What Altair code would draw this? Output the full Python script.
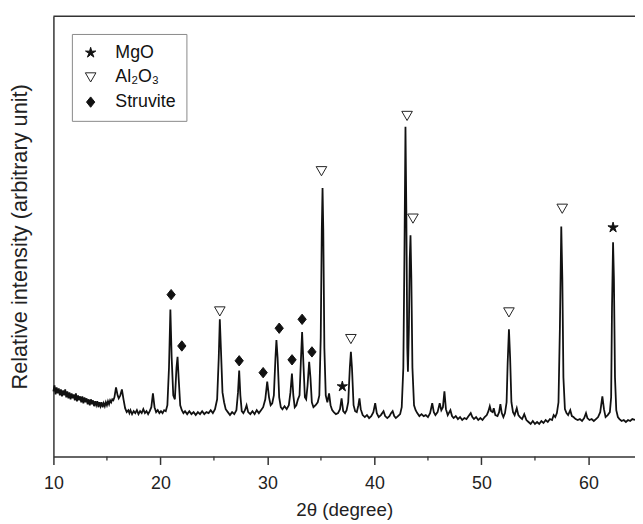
import altair as alt
import pandas as pd

# ---- data (2θ in degrees, intensity in arbitrary units) ----
profile = [
    (10.0, 66), (10.1, 72), (10.2, 63), (10.3, 70), (10.4, 64), (10.5, 69), (10.6, 62), (10.7, 68),
    (10.8, 61), (10.9, 67), (11.0, 62), (11.1, 68), (11.2, 60), (11.3, 66), (11.4, 59), (11.5, 65),
    (11.6, 58), (11.7, 64), (11.8, 59), (11.9, 63), (12.0, 57), (12.1, 64), (12.2, 56), (12.3, 62),
    (12.4, 57), (12.5, 61), (12.6, 55), (12.7, 61), (12.8, 54), (12.9, 60), (13.0, 55), (13.1, 59),
    (13.2, 53), (13.3, 58), (13.4, 52), (13.5, 58), (13.6, 53), (13.7, 57), (13.8, 51), (13.9, 56),
    (14.0, 52), (14.1, 56), (14.2, 50), (14.3, 55), (14.4, 51), (14.5, 55), (14.6, 50), (14.7, 54),
    (14.8, 51), (14.9, 55), (15.0, 52), (15.1, 56), (15.2, 53), (15.3, 57), (15.4, 55), (15.5, 58),
    (15.6, 57), (15.7, 60), (15.85, 70), (16.0, 62), (16.1, 59), (16.25, 62), (16.4, 68), (16.55, 58),
    (16.7, 49), (16.85, 45), (17.0, 47), (17.1, 44), (17.2, 47), (17.35, 43), (17.5, 46), (17.65, 44),
    (17.8, 47), (17.95, 43), (18.1, 46), (18.25, 44), (18.4, 48), (18.55, 44), (18.7, 46), (18.85, 43),
    (19.0, 46), (19.15, 50), (19.3, 64), (19.45, 50), (19.6, 45), (19.75, 47), (19.9, 44), (20.05, 46),
    (20.2, 44), (20.35, 47), (20.5, 46), (20.65, 52), (20.8, 90), (20.93, 149), (21.05, 100), (21.2, 62),
    (21.35, 58), (21.5, 90), (21.6, 101), (21.7, 80), (21.85, 52), (22.0, 47), (22.15, 44), (22.3, 46),
    (22.5, 43), (22.7, 46), (22.9, 43), (23.1, 45), (23.3, 42), (23.5, 45), (23.7, 43), (23.9, 46),
    (24.1, 43), (24.3, 45), (24.5, 44), (24.7, 47), (24.9, 44), (25.1, 48), (25.3, 58), (25.45, 100),
    (25.55, 139), (25.65, 110), (25.8, 65), (25.95, 55), (26.1, 48), (26.3, 45), (26.5, 42), (26.7, 45),
    (26.9, 43), (27.1, 47), (27.25, 65), (27.36, 87), (27.47, 62), (27.6, 46), (27.75, 44), (27.9, 47),
    (28.05, 52), (28.2, 45), (28.4, 43), (28.6, 46), (28.8, 43), (29.0, 47), (29.2, 44), (29.4, 47),
    (29.6, 50), (29.8, 58), (29.98, 76), (30.15, 60), (30.3, 52), (30.45, 54), (30.6, 62), (30.75, 100),
    (30.84, 118), (30.95, 100), (31.1, 60), (31.25, 50), (31.4, 48), (31.6, 51), (31.8, 48), (32.0, 52),
    (32.15, 65), (32.29, 84), (32.42, 62), (32.55, 50), (32.7, 52), (32.85, 58), (33.0, 62), (33.12, 95),
    (33.24, 126), (33.36, 95), (33.5, 60), (33.62, 58), (33.75, 72), (33.9, 96), (34.02, 80), (34.15, 55),
    (34.3, 50), (34.5, 52), (34.7, 55), (34.85, 62), (34.98, 120), (35.08, 230), (35.15, 272), (35.22, 230),
    (35.32, 110), (35.45, 62), (35.6, 55), (35.76, 64), (35.9, 52), (36.05, 47), (36.2, 45), (36.4, 43),
    (36.6, 44), (36.78, 48), (36.93, 59), (37.08, 46), (37.25, 44), (37.4, 47), (37.55, 55), (37.7, 90),
    (37.8, 106), (37.9, 90), (38.05, 52), (38.2, 46), (38.35, 45), (38.5, 52), (38.6, 59), (38.72, 48),
    (38.9, 42), (39.1, 40), (39.3, 42), (39.5, 39), (39.7, 41), (39.9, 45), (40.07, 54), (40.22, 44),
    (40.4, 40), (40.6, 42), (40.85, 46), (41.0, 41), (41.2, 39), (41.4, 41), (41.55, 44), (41.7, 46),
    (41.85, 41), (42.0, 39), (42.2, 41), (42.4, 43), (42.55, 50), (42.7, 90), (42.8, 200), (42.9, 334),
    (42.98, 250), (43.07, 110), (43.13, 86), (43.22, 130), (43.3, 200), (43.37, 224), (43.45, 180), (43.55, 90),
    (43.7, 52), (43.85, 47), (44.0, 44), (44.2, 41), (44.4, 43), (44.6, 41), (44.8, 42), (45.0, 40),
    (45.2, 44), (45.4, 54), (45.55, 45), (45.7, 42), (45.9, 45), (46.1, 54), (46.25, 47), (46.4, 50),
    (46.54, 66), (46.68, 48), (46.85, 42), (47.0, 45), (47.1, 47), (47.25, 41), (47.4, 39), (47.6, 41),
    (47.8, 38), (48.0, 40), (48.2, 37), (48.4, 39), (48.6, 38), (48.8, 41), (49.0, 44), (49.15, 40),
    (49.3, 38), (49.5, 40), (49.7, 37), (49.9, 39), (50.1, 37), (50.3, 40), (50.5, 42), (50.65, 46),
    (50.78, 51), (50.9, 46), (51.05, 45), (51.15, 49), (51.3, 42), (51.5, 41), (51.65, 45), (51.77, 53),
    (51.9, 44), (52.05, 40), (52.2, 44), (52.35, 55), (52.45, 95), (52.57, 129), (52.68, 100), (52.8, 55),
    (52.95, 45), (53.1, 42), (53.3, 49), (53.45, 42), (53.6, 40), (53.8, 38), (54.0, 43), (54.2, 37),
    (54.4, 35), (54.6, 33), (54.8, 36), (55.0, 33), (55.2, 35), (55.4, 33), (55.6, 36), (55.8, 34),
    (56.0, 37), (56.2, 35), (56.4, 38), (56.6, 37), (56.75, 42), (56.9, 40), (57.05, 44), (57.2, 55),
    (57.33, 130), (57.46, 233), (57.56, 180), (57.66, 80), (57.8, 48), (57.95, 44), (58.1, 42), (58.3, 47),
    (58.45, 41), (58.6, 40), (58.8, 38), (59.0, 37), (59.2, 38), (59.4, 36), (59.6, 39), (59.77, 44),
    (59.9, 39), (60.1, 37), (60.3, 38), (60.5, 36), (60.7, 38), (60.9, 40), (61.1, 45), (61.3, 61),
    (61.45, 48), (61.6, 40), (61.8, 42), (62.0, 45), (62.12, 60), (62.2, 150), (62.3, 217), (62.38, 180),
    (62.48, 80), (62.6, 47), (62.75, 40), (62.9, 38), (63.1, 36), (63.3, 37), (63.5, 35), (63.7, 37),
    (63.9, 36), (64.1, 38), (64.35, 37),
]

phases = ["MgO", "Al\u2082O\u2083", "Struvite"]
marker_phase = ["MgO", "MgO",
                "Al\u2082O\u2083", "Al\u2082O\u2083", "Al\u2082O\u2083", "Al\u2082O\u2083",
                "Al\u2082O\u2083", "Al\u2082O\u2083", "Al\u2082O\u2083",
                "Struvite", "Struvite", "Struvite", "Struvite",
                "Struvite", "Struvite", "Struvite", "Struvite"]
marker_theta = [37.0, 62.3,
                25.55, 35.05, 37.8, 43.05, 43.6, 52.57, 57.55,
                21.0, 22.0, 27.36, 29.6, 31.1, 32.3, 33.24, 34.16]
marker_intensity = [71, 232,
                    147, 289, 119, 345, 241, 146, 251,
                    164, 112, 97, 85, 130, 98, 139, 106]

major_ticks = [10, 20, 30, 40, 50, 60]
minor_ticks = [15, 25, 35, 45, 55]

X_DOMAIN = [10, 64.35]
Y_DOMAIN = [0, 446]
W, H = 589, 446
FONT = "Liberation Sans"
AX = "#333333"

df = pd.DataFrame(profile, columns=["two_theta", "intensity"])
mk = pd.DataFrame({"phase": marker_phase, "two_theta": marker_theta, "intensity": marker_intensity})
minor_df = pd.DataFrame({"two_theta": minor_ticks})
top_df = pd.DataFrame({"two_theta": [X_DOMAIN[0]], "two_theta_end": [X_DOMAIN[1]]})

xscale = alt.Scale(domain=X_DOMAIN, nice=False, zero=False)
yscale = alt.Scale(domain=Y_DOMAIN, nice=False, zero=False)

x_axis = alt.Axis(values=major_ticks, format="d", title="2θ (degree)",
                  tickSize=8, tickWidth=1.5, labelFlush=False, labelPadding=10,
                  labelFontSize=18, titleFontSize=19, titlePadding=9,
                  domainWidth=1.5, grid=False)
y_axis = alt.Axis(title="Relative intensity (arbitrary unit)", ticks=False, labels=False,
                  grid=False, domainWidth=1.5, titleFontSize=22, titlePadding=22)


def X(field="two_theta:Q"):
    return alt.X(field, scale=xscale, axis=x_axis, title="2θ (degree)")


def Y(field="intensity:Q"):
    return alt.Y(field, scale=yscale, axis=y_axis, title="Relative intensity (arbitrary unit)")


line = alt.Chart(df).mark_line(color="#111111", strokeWidth=1.8).encode(x=X(), y=Y())

minor = alt.Chart(minor_df).mark_rule(color=AX, strokeWidth=1.3).encode(
    x=X(),
    y=alt.value(H),
    y2=alt.value(H + 4),
)

top = alt.Chart(top_df).mark_rule(color=AX, strokeWidth=1.5).encode(
    x=X(),
    x2="two_theta_end:Q",
    y=alt.value(0),
)

star = ("M0,-1L0.2,-0.28L0.95,-0.31L0.33,0.11L0.59,0.81L0,0.36L-0.59,0.81"
        "L-0.33,0.11L-0.95,-0.31L-0.2,-0.28Z")
diamond = "M0,-1L0.8,0L0,1L-0.8,0Z"

leg = alt.Legend(title=None, orient="none", legendX=18.7, legendY=18, padding=10,
                 strokeColor="#888888", fillColor="white", labelFont=FONT, labelFontSize=18,
                 labelColor="#111111", labelOffset=16, rowPadding=7, symbolStrokeWidth=1)

pts = alt.Chart(mk).mark_point(strokeWidth=1, opacity=1).encode(
    x=X(),
    y=Y(),
    shape=alt.Shape("phase:N", scale=alt.Scale(domain=phases, range=[star, "triangle-down", diamond]), legend=leg),
    fill=alt.Fill("phase:N", scale=alt.Scale(domain=phases, range=["#111111", "white", "#111111"]), legend=leg),
    stroke=alt.Stroke("phase:N", scale=alt.Scale(domain=phases, range=["#111111", "#222222", "#111111"]), legend=leg),
    size=alt.Size("phase:N", scale=alt.Scale(domain=phases, range=[120, 110, 110]), legend=leg),
)

chart = alt.layer(line, minor, top, pts).properties(
    width=W, height=H,
    padding={"left": 46, "top": 5, "right": 0, "bottom": 65},
    autosize=alt.AutoSizeParams(type="none"),
    background="white",
).configure_view(stroke=None).configure_axis(
    labelFont=FONT, titleFont=FONT, labelColor="#222222", titleColor="#222222",
    titleFontWeight="normal", domainColor=AX, tickColor=AX,
)

chart.save("out.html", embed_options={"renderer": "svg", "actions": False})
